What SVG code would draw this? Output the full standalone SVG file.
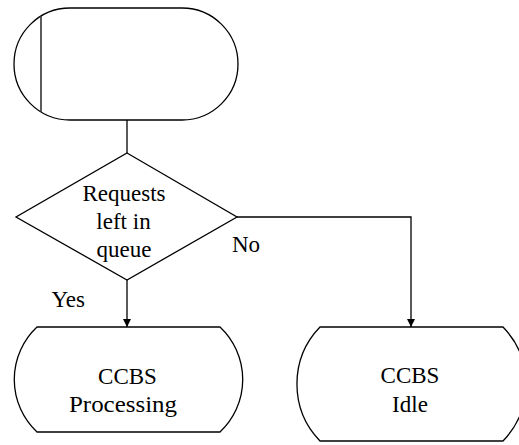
<svg xmlns="http://www.w3.org/2000/svg" width="519" height="445" viewBox="0 0 519 445">
<style>
.s{fill:#fff;stroke:#000;stroke-width:1.3}
.c{fill:none;stroke:#000;stroke-width:1.3}
text{font-family:'Liberation Serif','DejaVu Serif',serif;font-size:23px;fill:#000}
.t{text-anchor:middle}
</style>
<defs>
<marker id="ah" viewBox="0 0 10 10" refX="10" refY="5" markerWidth="10" markerHeight="8" markerUnits="userSpaceOnUse" orient="auto">
<path d="M0,0 L10,5 L0,10 Z" fill="#000"/>
</marker>
</defs>
<g id="connectors">
<line class="c" x1="127" y1="120" x2="127" y2="153"/>
<line class="c" x1="127" y1="280" x2="127" y2="327" marker-end="url(#ah)"/>
<polyline class="c" points="237,217 411,217 411,327" marker-end="url(#ah)"/>
<text x="51.5" y="307">Yes</text>
<text x="232" y="252">No</text>
</g>
<g id="start">
<rect class="s" x="14" y="8" width="224" height="112" rx="56" ry="56"/>
<line x1="41" y1="16" x2="41" y2="112" stroke="#333" stroke-width="1.6"/>
</g>
<g id="decision">
<polygon class="s" points="127,153 237,217 127,280 16,217"/>
<text class="t" x="124" y="201">Requests</text>
<text class="t" x="123.5" y="229">left in</text>
<text class="t" x="124" y="257">queue</text>
</g>
<g id="processing">
<path class="s" d="M37,327 L220,327 A72,72 0 0 1 220,432 L37,432 A72,72 0 0 1 37,327 Z"/>
<text class="t" x="127.5" y="384">CCBS</text>
<text class="t" x="123" y="412" textLength="108" lengthAdjust="spacingAndGlyphs">Processing</text>
</g>
<g id="idle">
<path class="s" d="M320,327 L503,327 A82,82 0 0 1 503,441 L320,441 A82,82 0 0 1 320,327 Z"/>
<text class="t" x="410" y="383">CCBS</text>
<text class="t" x="410" y="412">Idle</text>
</g>
</svg>
